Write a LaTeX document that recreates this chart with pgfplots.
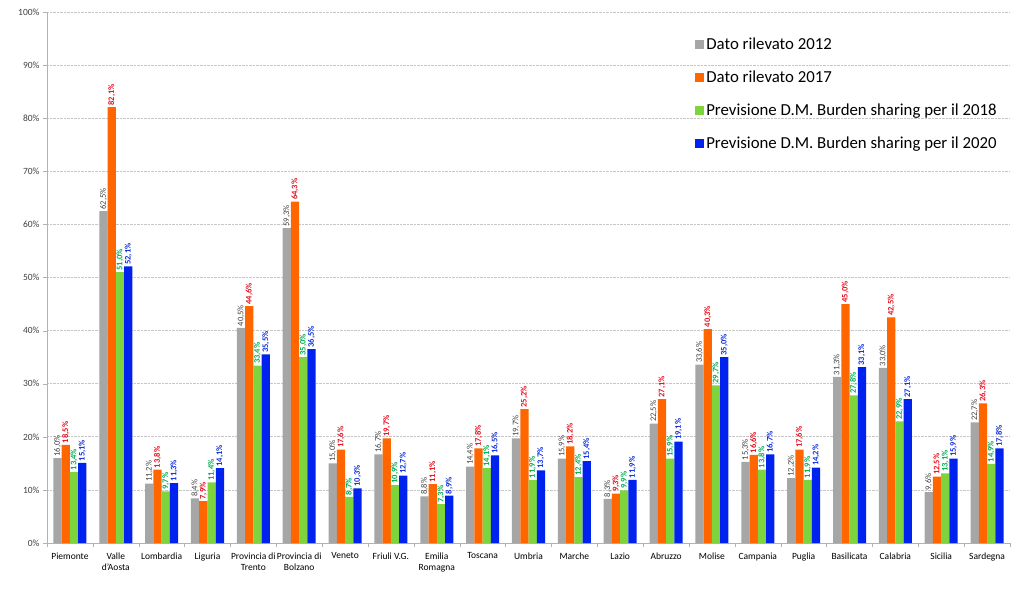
\documentclass[border=0pt]{standalone}
\usepackage{pgfplots}
\pgfplotsset{compat=1.18}
\usepackage{fontspec}
\setmainfont{Carlito}
\definecolor{cgray}{HTML}{A6A6A6}
\definecolor{corange}{HTML}{FF6600}
\definecolor{cgreen}{HTML}{7ED43C}
\definecolor{cblue}{HTML}{0022EE}
\definecolor{lgray}{HTML}{404040}
\definecolor{lred}{HTML}{E8101E}
\definecolor{lgreen}{HTML}{00B050}
\definecolor{lblue}{HTML}{1030E0}
\begin{document}
\begin{tikzpicture}
\begin{axis}[
  scale only axis,
  width=963pt, height=531pt,
  ybar=0pt, bar width=0.18,
  xmin=-0.5, xmax=20.5, ymin=0, ymax=100,
  axis x line*=bottom, axis y line*=left,
  axis line style={draw=gray!60, -},
  /pgf/number format/assume math mode=true,
  xtick={0,...,20},
  xticklabels={Piemonte,{Valle\\d'Aosta},Lombardia,Liguria,{Provincia di\\Trento},{Provincia di\\Bolzano},Veneto,Friuli V.G.,{Emilia\\Romagna},Toscana,Umbria,Marche,Lazio,Abruzzo,Molise,Campania,Puglia,Basilicata,Calabria,Sicilia,Sardegna},
  xticklabel style={align=center, font=\fontsize{9.5}{11}\selectfont, text=black, yshift=-2pt},
  major x tick style={draw=none},
  minor xtick={-0.5,0.5,...,20.5},
  minor x tick style={draw=gray!60},
  minor tick length=4pt,
  ytick={0,10,...,100},
  yticklabel={\pgfmathprintnumber{\tick}\%},
  yticklabel style={font=\fontsize{9.5}{11}\selectfont, text=lgray},
  major y tick style={draw=gray!60},
  major tick length=4pt,
  tick align=outside,
  ymajorgrids,
  major grid style={densely dotted, gray!45, line width=0.8pt},
  nodes near coords={\pgfmathprintnumber[fixed,fixed zerofill,precision=1,use comma]{\pgfplotspointmeta}\%},
  every node near coord/.append style={rotate=90, anchor=west, inner sep=1.5pt, font=\fontsize{8.5}{9}\selectfont},
  legend style={at={(0.673,0.955)}, anchor=north west, draw=none, fill=none,
    font=\fontsize{16.8}{18}\selectfont, row sep=15.8pt, inner sep=0pt,
    /tikz/every even column/.append style={column sep=0pt}},
  legend cell align=left,
  legend image code/.code={\fill[#1] (0pt,-4.2pt) rectangle (9pt,4.8pt);},
]
\addplot[fill=cgray, draw=none, every node near coord/.append style={text=lgray}] coordinates {
(0,16.0) (1,62.5) (2,11.2) (3,8.4) (4,40.5) (5,59.3) (6,15.0) (7,16.7) (8,8.8) (9,14.4) (10,19.7)
(11,15.9) (12,8.3) (13,22.5) (14,33.6) (15,15.3) (16,12.2) (17,31.3) (18,33.0) (19,9.6) (20,22.7)};
\addplot[fill=corange, draw=none, every node near coord/.append style={text=lred, font=\fontsize{8.5}{9}\selectfont\bfseries}] coordinates {
(0,18.5) (1,82.1) (2,13.8) (3,7.9) (4,44.6) (5,64.3) (6,17.6) (7,19.7) (8,11.1) (9,17.8) (10,25.2)
(11,18.2) (12,9.3) (13,27.1) (14,40.3) (15,16.6) (16,17.6) (17,45.0) (18,42.5) (19,12.5) (20,26.3)};
\addplot[fill=cgreen, draw=none, every node near coord/.append style={text=lgreen, font=\fontsize{8.5}{9}\selectfont\bfseries}] coordinates {
(0,13.4) (1,51.0) (2,9.7) (3,11.4) (4,33.4) (5,35.0) (6,8.7) (7,10.9) (8,7.3) (9,14.1) (10,11.9)
(11,12.4) (12,9.9) (13,15.9) (14,29.7) (15,13.8) (16,11.9) (17,27.8) (18,22.9) (19,13.1) (20,14.9)};
\addplot[fill=cblue, draw=none, every node near coord/.append style={text=lblue, font=\fontsize{8.5}{9}\selectfont\bfseries}] coordinates {
(0,15.1) (1,52.1) (2,11.3) (3,14.1) (4,35.5) (5,36.5) (6,10.3) (7,12.7) (8,8.9) (9,16.5) (10,13.7)
(11,15.4) (12,11.9) (13,19.1) (14,35.0) (15,16.7) (16,14.2) (17,33.1) (18,27.1) (19,15.9) (20,17.8)};
\legend{Dato rilevato 2012, Dato rilevato 2017, Previsione D.M. Burden sharing per il 2018, Previsione D.M. Burden sharing per il 2020}
\end{axis}
\pgfresetboundingbox
\path ([shift={(-47pt,-49pt)}]current axis.south west) rectangle ([shift={(14pt,12pt)}]current axis.north east);
\end{tikzpicture}
\end{document}
